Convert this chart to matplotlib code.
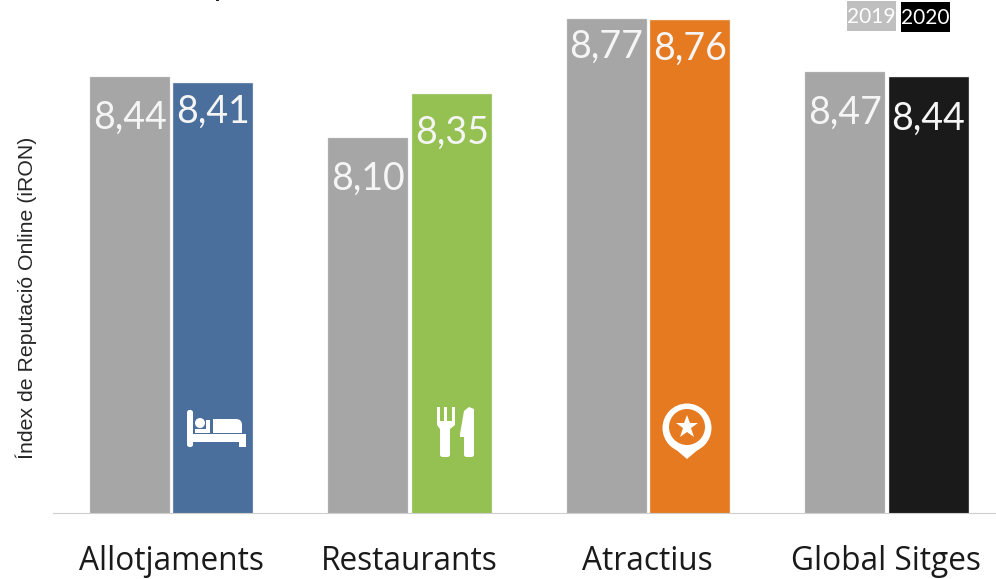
import matplotlib
matplotlib.use('Agg')
import matplotlib.pyplot as plt
from matplotlib.patches import Circle, Polygon, Rectangle, FancyBboxPatch

categorias = ['Allotjaments', 'Restaurants', 'Atractius', 'Global Sitges']
valors_2019 = [8.44, 8.10, 8.77, 8.47]
valors_2020 = [8.41, 8.35, 8.76, 8.44]
colors_2020 = ['#4a6f9c', '#94c151', '#e57a21', '#1a1a1a']
gris = '#a6a6a6'

# how far below the top of the bar each label sits, in pixels
baixada_2019 = [40, 41, 28, 41]
baixada_2020 = [29, 39, 28, 41]

W, H = 996, 579
fig = plt.figure(figsize=(W / 100, H / 100), dpi=100)

# axes run from the baseline up to the top of the picture
x0, x1 = 53, 996
y_base = 513
ax = fig.add_axes([x0 / W, (H - y_base) / H, (x1 - x0) / W, y_base / H])
px_per_grup = 238.4
ax.set_xlim((x0 - 171) / px_per_grup, (x1 - 171) / px_per_grup)
ax.set_ylim(6, 6 + y_base / 178.5)
ax.patch.set_alpha(0)

ample = 80 / px_per_grup
sep_2019 = 41.3 / px_per_grup
sep_2020 = 42.3 / px_per_grup
pos = list(range(len(categorias)))

ax.bar([p - sep_2019 for p in pos], valors_2019, ample, color=gris, edgecolor='#d0d0d0', linewidth=0.3)
ax.bar([p + sep_2020 for p in pos], valors_2020, ample, color=colors_2020, edgecolor='#e4e4e4', linewidth=0.3)

for i in pos:
    ax.annotate(f'{valors_2019[i]:.2f}'.replace('.', ','), (i - sep_2019, valors_2019[i]),
                xytext=(0, -baixada_2019[i] * 0.72), textcoords='offset points',
                ha='center', va='center', color='#f5f5f5', fontsize=27, family='Lato')
    ax.annotate(f'{valors_2020[i]:.2f}'.replace('.', ','), (i + sep_2020, valors_2020[i]),
                xytext=(0, -baixada_2020[i] * 0.72), textcoords='offset points',
                ha='center', va='center', color='#f5f5f5', fontsize=27, family='Lato')

for s in ['top', 'left', 'right']:
    ax.spines[s].set_visible(False)
ax.spines['bottom'].set_color('#cfcfcf')
ax.spines['bottom'].set_linestyle((0, (2, 1)))
ax.spines['bottom'].set_linewidth(0.8)
ax.set_yticks([])
ax.set_xticks(pos)
ax.set_xticklabels(categorias, fontsize=22.8, family='Open Sans', color='#1a1a1a')
ax.tick_params(axis='x', length=0, pad=23)

# overlay in picture pixels for the legend, the axis title and the icons
ov = fig.add_axes([0, 0, 1, 1], zorder=5)
ov.set_xlim(0, W)
ov.set_ylim(H, 0)
ov.axis('off')

ov.text(26, 298, 'Índex de Reputació Online (iRON)', rotation=90, ha='center', va='center',
        fontsize=15.3, family='Liberation Sans', color='#262626')

ov.add_patch(Rectangle((847, 1), 49, 30, color='#bfbfbf', lw=0))
ov.add_patch(Rectangle((901, 2), 49, 30, color='black', lw=0))
ov.text(871.5, 17, '2019', ha='center', va='center', color='white', fontsize=15, family='Lato')
ov.text(925.5, 18, '2020', ha='center', va='center', color='white', fontsize=15, family='Lato')

# the speck cut off at the top edge
ov.add_patch(Rectangle((216, 0), 3, 1.2, color='#222222', lw=0))

# bed
b = dict(color='white', lw=0)
ov.add_patch(FancyBboxPatch((187, 410), 6, 37, boxstyle='round,pad=0,rounding_size=2.5', **b))
ov.add_patch(Rectangle((187, 434), 59, 8, **b))
ov.add_patch(Rectangle((239, 436), 7, 11, **b))
ov.add_patch(Circle((200, 423), 5, **b))
ov.add_patch(Rectangle((195, 429), 15, 4, **b))
ov.add_patch(Rectangle((206, 420), 4, 13, **b))
ov.add_patch(FancyBboxPatch((213, 419), 29, 14, boxstyle='round,pad=0,rounding_size=6', **b))
ov.add_patch(Rectangle((213, 419), 14, 14, **b))
ov.add_patch(Rectangle((213, 426), 29, 7, **b))

# fork and knife
for xf in [437, 444.3, 452]:
    ov.add_patch(Rectangle((xf, 407), 3, 18, **b))
ov.add_patch(Polygon([(437, 421), (455, 421), (455, 425), (450, 429), (440, 429), (437, 425)], **b))
ov.add_patch(FancyBboxPatch((440, 426), 10, 31, boxstyle='round,pad=0,rounding_size=2.5', **b))
ov.add_patch(Polygon([(460, 434), (464, 411), (469, 407), (474, 409), (474, 437), (460, 437)], **b))
ov.add_patch(FancyBboxPatch((464, 430), 10, 27, boxstyle='round,pad=0,rounding_size=2.5', **b))

# map pin with star
ov.add_patch(Polygon([(667, 442), (687, 459), (707, 442), (687, 425)], **b))
ov.add_patch(Circle((687, 428), 24.5, **b))
ov.add_patch(Circle((687, 427), 18, color='#e57a21', lw=0))
ov.plot([687], [426.5], marker='*', ms=17, color='white', mew=0)

fig.savefig('out.png', dpi=100)
